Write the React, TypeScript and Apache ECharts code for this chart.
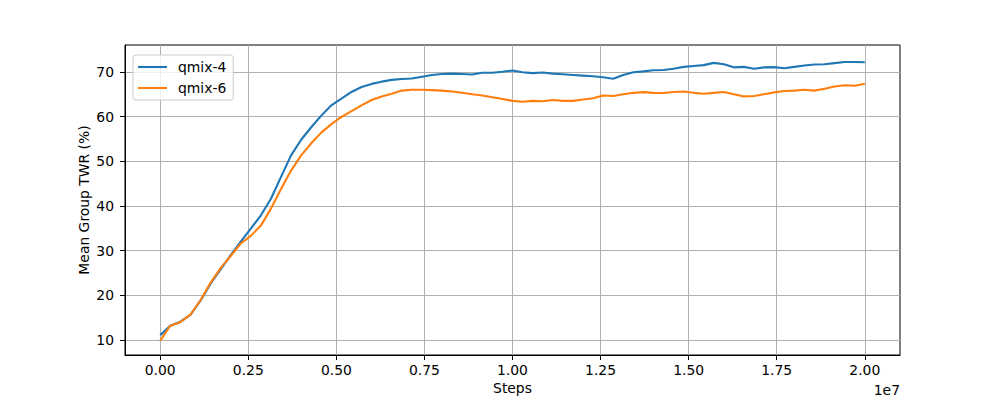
import React, { useEffect, useRef } from "react";
import * as echarts from "echarts";

const STEP_SIZE = 2e7 / 70;

const QMIX4 = [
  11.1, 13.2, 14.1, 15.6, 18.8, 22.6, 25.8, 29.0, 32.0, 34.9,
  37.9, 41.6, 46.5, 51.3, 54.8, 57.6, 60.2, 62.5, 64.0, 65.5,
  66.6, 67.3, 67.8, 68.2, 68.4, 68.5, 68.9, 69.3, 69.5, 69.6,
  69.5, 69.4, 69.8, 69.8, 70.0, 70.3, 69.9, 69.7, 69.85, 69.6,
  69.45, 69.3, 69.15, 69.0, 68.8, 68.45, 69.3, 69.9, 70.1, 70.35,
  70.4, 70.7, 71.1, 71.3, 71.5, 72.0, 71.7, 71.0, 71.1, 70.7,
  71.0, 71.05, 70.8, 71.1, 71.4, 71.65, 71.7, 71.95, 72.2, 72.2,
  72.15,
];

const QMIX6 = [
  9.85, 13.2, 14.0, 15.7, 18.9, 22.8, 26.1, 28.8, 31.6, 33.3,
  35.6, 39.4, 43.8, 47.9, 51.3, 54.0, 56.4, 58.3, 59.9, 61.2,
  62.5, 63.7, 64.5, 65.1, 65.8, 66.0, 66.0, 65.9, 65.8, 65.6,
  65.3, 65.0, 64.7, 64.3, 63.9, 63.5, 63.3, 63.5, 63.4, 63.7,
  63.5, 63.5, 63.8, 64.1, 64.7, 64.6, 65.0, 65.3, 65.45, 65.3,
  65.25, 65.5, 65.6, 65.3, 65.1, 65.3, 65.5, 65.0, 64.5, 64.6,
  65.0, 65.4, 65.7, 65.8, 66.0, 65.8, 66.2, 66.7, 67.0, 66.9,
  67.35,
];

const X_TICKS = [0, 2.5e6, 5e6, 7.5e6, 1e7, 1.25e7, 1.5e7, 1.75e7, 2e7];
const Y_TICKS = [10, 20, 30, 40, 50, 60, 70];

const FONT = "DejaVu Sans";
const FS = 13.9;
const LW = 2.1;

export default function App() {
  const ref = useRef<HTMLDivElement>(null);
  useEffect(() => {
    if (!ref.current) return;
    const chart = echarts.init(ref.current, null, { renderer: "svg" });
    const pairs = (vals: number[]) => vals.map((v, i) => [i * STEP_SIZE, v]);
    chart.setOption({
      animation: false,
      backgroundColor: "#ffffff",
      textStyle: { fontFamily: FONT },
      grid: {
        left: 125,
        right: 100,
        top: 45,
        bottom: 44,
        show: true,
        borderColor: "#000000",
        borderWidth: 1,
        containLabel: false,
      },
      legend: {
        orient: "vertical",
        left: 133,
        top: 55,
        padding: [5, 7, 5, 5],
        itemWidth: 29,
        itemHeight: LW,
        itemGap: 7,
        backgroundColor: "rgba(255,255,255,0.8)",
        borderColor: "#cccccc",
        borderWidth: 1,
        borderRadius: 3,
        textStyle: {
          fontFamily: FONT,
          fontSize: FS,
          lineHeight: 14,
          color: "#000000",
          padding: [0, 0, 0, 6],
        },
        data: [
          { name: "qmix-4", icon: "rect", itemStyle: { color: "#1f77b4" } },
          { name: "qmix-6", icon: "rect", itemStyle: { color: "#ff7f0e" } },
        ],
      },
      xAxis: {
        type: "value",
        min: -1e6,
        max: 2.1e7,
        name: "Steps",
        nameLocation: "middle",
        nameGap: 26,
        nameMoveOverlap: false,
        nameTextStyle: { fontFamily: FONT, fontSize: FS, color: "#000000", verticalAlign: "top" },
        axisLine: { show: true, onZero: false, lineStyle: { color: "#000000", width: 1 } },
        axisTick: {
          show: true,
          length: 5,
          inside: false,
          customValues: X_TICKS,
          lineStyle: { color: "#000000", width: 1 },
        },
        axisLabel: {
          customValues: X_TICKS,
          margin: 8,
          fontFamily: FONT,
          fontSize: FS,
          color: "#000000",
          formatter: (v: number) => (v / 1e7).toFixed(2),
        },
        splitLine: { show: true, lineStyle: { color: "#b0b0b0", width: 1 } },
      },
      yAxis: {
        type: "value",
        min: 6.65,
        max: 76.0,
        name: "Mean Group TWR (%)",
        nameLocation: "middle",
        nameGap: 34,
        nameMoveOverlap: false,
        nameRotate: 90,
        nameTextStyle: { fontFamily: FONT, fontSize: FS, color: "#000000" },
        axisLine: { show: true, onZero: false, lineStyle: { color: "#000000", width: 1 } },
        axisTick: {
          show: true,
          length: 5,
          inside: false,
          customValues: Y_TICKS,
          lineStyle: { color: "#000000", width: 1 },
        },
        axisLabel: {
          customValues: Y_TICKS,
          margin: 11,
          fontFamily: FONT,
          fontSize: FS,
          color: "#000000",
        },
        splitLine: { show: true, lineStyle: { color: "#b0b0b0", width: 1 } },
      },
      graphic: [
        {
          type: "text",
          right: 100,
          top: 383,
          style: {
            text: "1e7",
            fontFamily: FONT,
            fontSize: FS,
            fill: "#000000",
          },
        },
      ],
      series: [
        {
          name: "qmix-4",
          type: "line",
          data: pairs(QMIX4),
          showSymbol: false,
          symbol: "none",
          lineStyle: { color: "#1f77b4", width: LW },
          itemStyle: { color: "#1f77b4" },
        },
        {
          name: "qmix-6",
          type: "line",
          data: pairs(QMIX6),
          showSymbol: false,
          symbol: "none",
          lineStyle: { color: "#ff7f0e", width: LW },
          itemStyle: { color: "#ff7f0e" },
        },
      ],
    });
    return () => chart.dispose();
  }, []);
  return <div ref={ref} style={{ width: 1000, height: 400, position: "absolute", left: 0, top: 0 }} />;
}
